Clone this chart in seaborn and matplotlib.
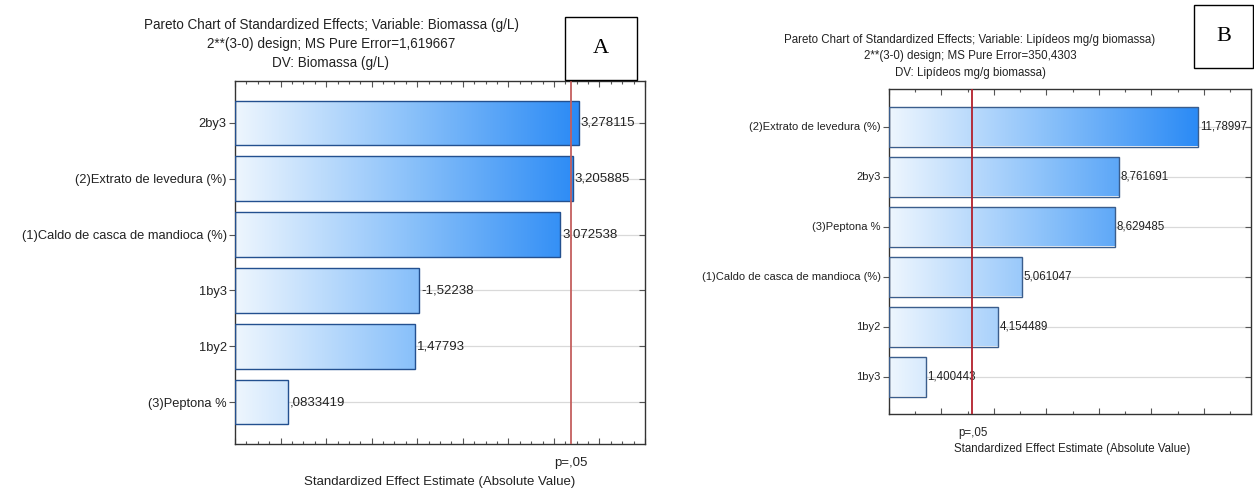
import numpy as np
import pandas as pd
import matplotlib
matplotlib.use("Agg")
import matplotlib.pyplot as plt
import matplotlib.transforms as mtransforms
import matplotlib.lines as mlines
import seaborn as sns
from matplotlib.colors import LinearSegmentedColormap
from matplotlib.ticker import MultipleLocator, NullFormatter
from matplotlib.patches import Rectangle

# ---------------- data ----------------
effects_a = ["2by3", "(2)Extrato de levedura (%)", "(1)Caldo de casca de mandioca (%)",
             "1by3", "1by2", "(3)Peptona %"]
values_a = [3.278115, 3.205885, 3.072538, -1.52238, 1.47793, 0.0833419]
title_a = ["Pareto Chart of Standardized Effects; Variable: Biomassa (g/L)",
           "2**(3-0) design; MS Pure Error=1,619667",
           "DV: Biomassa (g/L)"]

effects_b = ["(2)Extrato de levedura (%)", "2by3", "(3)Peptona %",
             "(1)Caldo de casca de mandioca (%)", "1by2", "1by3"]
values_b = [11.78997, 8.761691, 8.629485, 5.061047, 4.154489, 1.400443]
title_b = ["Pareto Chart of Standardized Effects; Variable: Lipídeos mg/g biomassa)",
           "2**(3-0) design; MS Pure Error=350,4303",
           "DV: Lipídeos mg/g biomassa)"]

p_crit = 3.182446
p_label = "p=,05"
x_label = "Standardized Effect Estimate (Absolute Value)"
panel_letters = ["A", "B"]

# ---------------- style ----------------
sns.set_theme(style="white")
plt.rcParams["font.family"] = ["Liberation Sans", "DejaVu Sans"]

W, H = 1254, 488
fig = plt.figure(figsize=(W / 100, H / 100), dpi=100)
fig.patch.set_facecolor("white")

cmap = LinearSegmentedColormap.from_list("grad", ["#eef6fe", "#8cc2fa", "#2a8af5"])


def fmt(v):
    s = repr(v).replace(".", ",")
    if s.startswith("0,"):
        s = s[1:]
    return s


def px_axes(l, t, r, b):
    return fig.add_axes([l / W, 1 - b / H, (r - l) / W, (b - t) / H])


def panel(ax, effects, values, xmin, xmax, major, minor, fs_lab, fs_val,
          line_color, edge_color, ticklen):
    df = pd.DataFrame({"effect": effects, "value": np.abs(values)})
    sns.barplot(data=df, x="value", y="effect", orient="h", order=effects, ax=ax,
                color="white", edgecolor=edge_color, linewidth=1.0, width=0.8, zorder=2)
    gmax = max(np.abs(values))
    grad = np.linspace(0, 1, 256).reshape(1, -1)
    bars = [p for p in ax.patches if isinstance(p, Rectangle)][:len(values)]
    for p, v in zip(bars, np.abs(values)):
        p.set_x(xmin)
        p.set_width(v - xmin)
        p.set_facecolor("none")
        p.set_zorder(3)
        y0, h = p.get_y(), p.get_height()
        im = ax.imshow(grad, extent=[xmin, gmax, y0 + h, y0], aspect="auto",
                       cmap=cmap, interpolation="bilinear", zorder=2)
        im.set_clip_path(p)
    for i, v in enumerate(values):
        ax.text(abs(v) + (xmax - xmin) * 0.004, i, fmt(v), va="center", ha="left",
                fontsize=fs_val, color="#222222", zorder=4)
    for i in range(len(values)):
        ax.axhline(i, color="#d9d9d9", lw=0.9, zorder=0)
    ax.axvline(p_crit, color=line_color, lw=1.3, zorder=5)
    ax.set_xlim(xmin, xmax)
    ax.set_ylim(len(values) - 0.25, -0.75)
    ax.set_xlabel("")
    ax.set_ylabel("")
    ax.xaxis.set_major_locator(MultipleLocator(major))
    ax.xaxis.set_minor_locator(MultipleLocator(minor))
    ax.xaxis.set_major_formatter(NullFormatter())
    ax.tick_params(axis="x", which="both", direction="in", top=True, bottom=True,
                   color="#555555", width=0.8)
    ax.tick_params(axis="x", which="major", length=ticklen)
    ax.tick_params(axis="x", which="minor", length=ticklen * 0.6)
    ax.tick_params(axis="y", which="major", direction="out", left=True, right=True,
                   length=ticklen, width=0.8, color="#555555", labelsize=fs_lab,
                   labelcolor="#222222", pad=2)
    for t in ax.yaxis.get_major_ticks():
        t.tick2line.set_marker(mlines.TICKLEFT)
    for s in ax.spines.values():
        s.set_visible(True)
        s.set_color("#333333")
        s.set_linewidth(1.0)
    ax.set_facecolor("white")
    trans = mtransforms.blended_transform_factory(ax.transData, ax.transAxes)
    return trans


# left panel
ax1 = px_axes(235, 81, 645, 444)
tr1 = panel(ax1, effects_a, values_a, -0.5, 4.0, 0.5, 0.125, 9.25, 9.5,
            "#c45f5e", "#23508f", 4)
ax1.text(p_crit, -0.035, p_label, transform=tr1, ha="center", va="top", fontsize=9.5,
         color="#222222")
fig.text(440 / W, 1 - 482 / H, x_label, ha="center", va="center", fontsize=9.5,
         color="#222222")
for k, line in enumerate(title_a):
    fig.text(331 / W, 1 - (25 + 19 * k) / H, line, ha="center", va="center",
             fontsize=9.75, color="#222222")

# right panel
ax2 = px_axes(889, 89, 1251, 414)
tr2 = panel(ax2, effects_b, values_b, 0.0, 13.8, 2, 1, 8, 8.3, "#b3202c", "#3a5d8c", 4)
ax2.text(p_crit, -0.04, p_label, transform=tr2, ha="center", va="top", fontsize=8.3,
         color="#222222")
fig.text(1072 / W, 1 - 449 / H, x_label, ha="center", va="center", fontsize=8.3,
         color="#222222")
for k, line in enumerate(title_b):
    fig.text(970 / W, 1 - (40 + 16.5 * k) / H, line, ha="center", va="center",
             fontsize=8.3, color="#222222")

# panel letter boxes
for (l, t, r, b), letter in zip([(565, 17, 637, 80), (1194, 5, 1253, 68)], panel_letters):
    fig.patches.append(Rectangle((l / W, 1 - b / H), (r - l) / W, (b - t) / H,
                                 transform=fig.transFigure, facecolor="white",
                                 edgecolor="black", lw=1.0, zorder=10))
    fig.text((l + r) / 2 / W, 1 - (t + b) / 2 / H, letter, ha="center", va="center",
             fontsize=16, family="Liberation Serif", color="black", zorder=11)

fig.savefig("out.png", dpi=100, facecolor="white")
